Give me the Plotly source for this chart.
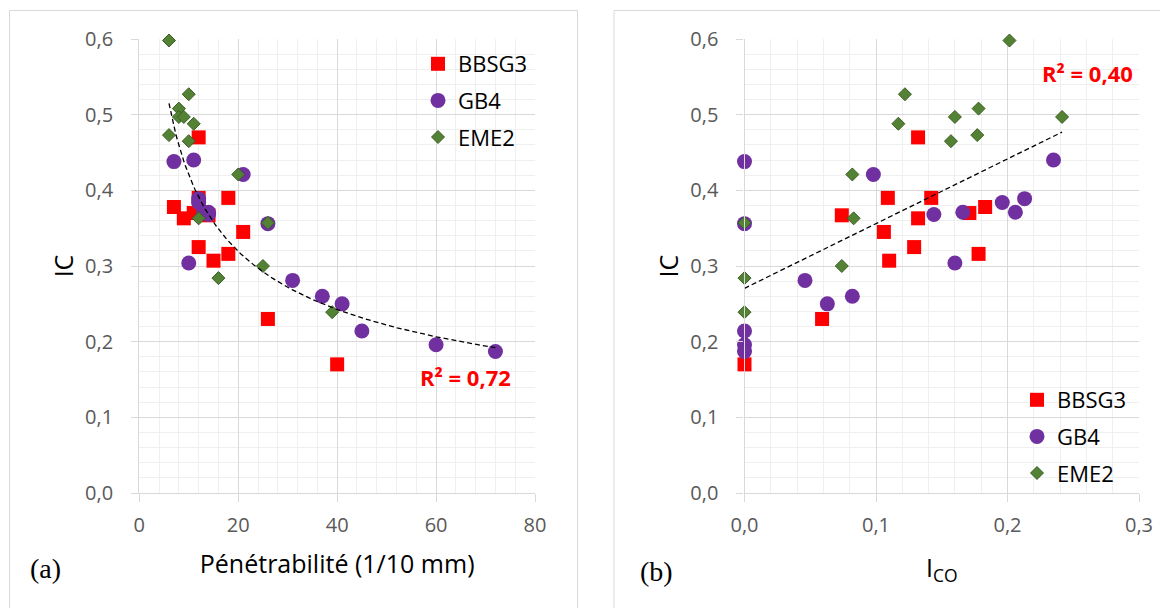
import numpy as np
import plotly.graph_objects as go

# ---------------- data ----------------
series_names = ["BBSG3", "GB4", "EME2"]

ic_bbsg3 = [0.470, 0.378, 0.363, 0.370, 0.390, 0.390, 0.367, 0.345, 0.325, 0.307, 0.316, 0.230, 0.170]
pen_bbsg3 = [12, 7, 9, 11, 12, 18, 14, 21, 12, 15, 18, 26, 40]
ico_bbsg3 = [0.132, 0.183, 0.132, 0.171, 0.109, 0.142, 0.074, 0.106, 0.129, 0.110, 0.178, 0.059, 0.000]

ic_gb4 = [0.438, 0.440, 0.421, 0.389, 0.384, 0.371, 0.371, 0.368, 0.304, 0.356, 0.281, 0.260, 0.250, 0.214, 0.196, 0.187]
pen_gb4 = [7, 11, 21, 12, 12, 13, 14, 14, 10, 26, 31, 37, 41, 45, 60, 72]
ico_gb4 = [0.000, 0.235, 0.098, 0.213, 0.196, 0.166, 0.206, 0.144, 0.160, 0.000, 0.046, 0.082, 0.063, 0.000, 0.000, 0.000]

ic_eme2 = [0.598, 0.527, 0.508, 0.497, 0.497, 0.488, 0.473, 0.465, 0.421, 0.363, 0.357, 0.300, 0.284, 0.239]
pen_eme2 = [6, 10, 8, 8, 9, 11, 6, 10, 20, 12, 26, 25, 16, 39]
ico_eme2 = [0.2015, 0.122, 0.178, 0.160, 0.2415, 0.117, 0.177, 0.157, 0.082, 0.083, 0.000, 0.074, 0.000, 0.000]

# trendlines (Excel: power fit on (a), linear fit on (b))
power_a, power_b = 1.049, -0.397
power_xrange = [6, 72]
lin_slope, lin_intercept = 0.855, 0.2705
lin_xrange = [0.0, 0.2415]
r2_a_text = "R² = 0,72"
r2_b_text = "R² = 0,40"

x_ticks_a = [0, 20, 40, 60, 80]
x_ticks_b = [0.0, 0.1, 0.2, 0.3]
y_ticks = [0.0, 0.1, 0.2, 0.3, 0.4, 0.5, 0.6]

# ---------------- styling ----------------
OFF = 8                      # page body margin in the browser
W, H = 1168 - OFF, 608 - OFF
FONT = "Open Sans"
TICK_COLOR = "#595959"
GRID = "#d9d9d9"
MINOR = "#efefef"
colors = {"BBSG3": "#ff0000", "GB4": "#7030a0", "EME2": "#548235"}

def px_x(p):
    return (p - OFF) / W

def px_y(p):
    return 1 - (p - OFF) / H

fig = go.Figure()

def add_series(xs, ys, name, xa, ya, legend):
    if name == "BBSG3":
        marker = dict(symbol="square", size=14, color=colors[name], line=dict(width=0))
    elif name == "GB4":
        marker = dict(symbol="circle", size=15, color=colors[name], line=dict(width=0))
    else:
        marker = dict(symbol="diamond", size=10, color=colors[name],
                      line=dict(width=1, color="#3a5e24"))
    fig.add_trace(go.Scatter(x=xs, y=ys, mode="markers", name=name, marker=marker,
                             xaxis=xa, yaxis=ya, legend=legend, legendgroup=legend + name,
                             cliponaxis=False))

add_series(pen_bbsg3, ic_bbsg3, "BBSG3", "x", "y", "legend")
add_series(pen_gb4, ic_gb4, "GB4", "x", "y", "legend")
add_series(pen_eme2, ic_eme2, "EME2", "x", "y", "legend")
add_series(ico_bbsg3, ic_bbsg3, "BBSG3", "x2", "y2", "legend2")
add_series(ico_gb4, ic_gb4, "GB4", "x2", "y2", "legend2")
add_series(ico_eme2, ic_eme2, "EME2", "x2", "y2", "legend2")

# trendlines
tx = np.linspace(power_xrange[0], power_xrange[1], 200)
fig.add_trace(go.Scatter(x=tx, y=power_a * tx ** power_b, mode="lines",
                         line=dict(color="black", width=1.3, dash="5px,3px"),
                         xaxis="x", yaxis="y", showlegend=False, hoverinfo="skip"))
lx = np.array(lin_xrange)
fig.add_trace(go.Scatter(x=lx, y=lin_intercept + lin_slope * lx, mode="lines",
                         line=dict(color="black", width=1.3, dash="5px,3px"),
                         xaxis="x2", yaxis="y2", showlegend=False, hoverinfo="skip"))

ydom = [px_y(493), px_y(39)]
common_axis = dict(showline=True, linecolor=GRID, linewidth=1.3, zeroline=False,
                   showgrid=True, gridcolor=GRID, gridwidth=1.3, automargin=False,
                   ticks="outside", tickcolor=GRID, tickwidth=1.3,
                   tickfont=dict(family=FONT, size=20, color=TICK_COLOR))

xa = dict(common_axis, domain=[px_x(139.3), px_x(535)], range=[0, 80], tickvals=x_ticks_a,
          ticklen=8, ticklabelstandoff=6,
          minor=dict(dtick=4, showgrid=True, gridcolor=MINOR, gridwidth=1.3),
          title=dict(text="Pénétrabilité (1/10 mm)", font=dict(family=FONT, size=25, color="black"),
                     standoff=18),
          anchor="y")
xb = dict(common_axis, domain=[px_x(744.5), px_x(1139)], range=[0, 0.3], tickvals=x_ticks_b,
          tickformat=".1f", ticklen=8, ticklabelstandoff=6,
          minor=dict(dtick=0.02, showgrid=True, gridcolor=MINOR, gridwidth=1.3),
          title=dict(text="I<sub>CO</sub>", font=dict(family=FONT, size=25, color="black"),
                     standoff=22),
          anchor="y2")
ya = dict(common_axis, domain=ydom, range=[0, 0.6], tickvals=y_ticks, tickformat=".1f",
          ticklen=7, ticklabelstandoff=14,
          minor=dict(dtick=0.02, showgrid=True, gridcolor=MINOR, gridwidth=1.3),
          title=dict(text="IC", font=dict(family=FONT, size=25, color="black"), standoff=4),
          anchor="x")
yb = dict(ya, anchor="x2")

fig.update_layout(
    width=W, height=H,
    margin=dict(l=0, r=0, t=0, b=0, autoexpand=False),
    paper_bgcolor="white", plot_bgcolor="white",
    separators=", ",
    xaxis=xa, yaxis=ya, xaxis2=xb, yaxis2=yb,
    legend=dict(x=px_x(418), y=px_y(43), xanchor="left", yanchor="top",
                font=dict(family=FONT, size=22, color="black"), bgcolor="rgba(0,0,0,0)",
                tracegroupgap=5, itemwidth=30),
    legend2=dict(x=px_x(1017), y=px_y(379), xanchor="left", yanchor="top",
                 font=dict(family=FONT, size=22, color="black"), bgcolor="rgba(0,0,0,0)",
                 tracegroupgap=5, itemwidth=30),
    shapes=[
        dict(type="rect", xref="paper", yref="paper", x0=px_x(9.5), x1=px_x(577.5),
             y0=-0.05, y1=px_y(10.5), line=dict(color=GRID, width=1), layer="below"),
        dict(type="rect", xref="paper", yref="paper", x0=px_x(614), x1=px_x(1167.5),
             y0=-0.05, y1=px_y(10.5), line=dict(color=GRID, width=1), layer="below"),
    ],
    annotations=[
        dict(text=r2_a_text, xref="paper", yref="paper", x=px_x(465.5), y=px_y(377),
             xanchor="center", yanchor="middle", showarrow=False,
             font=dict(family=FONT, size=22, color="#ff0000", weight="bold")),
        dict(text=r2_b_text, xref="paper", yref="paper", x=px_x(1087.5), y=px_y(73),
             xanchor="center", yanchor="middle", showarrow=False,
             font=dict(family=FONT, size=22, color="#ff0000", weight="bold")),
        dict(text="(a)", xref="paper", yref="paper", x=px_x(45.5), y=px_y(568),
             xanchor="center", yanchor="middle", showarrow=False,
             font=dict(family="Liberation Serif", size=28, color="black")),
        dict(text="(b)", xref="paper", yref="paper", x=px_x(656), y=px_y(571),
             xanchor="center", yanchor="middle", showarrow=False,
             font=dict(family="Liberation Serif", size=28, color="black")),
    ],
)

fig.write_html("out.html")
